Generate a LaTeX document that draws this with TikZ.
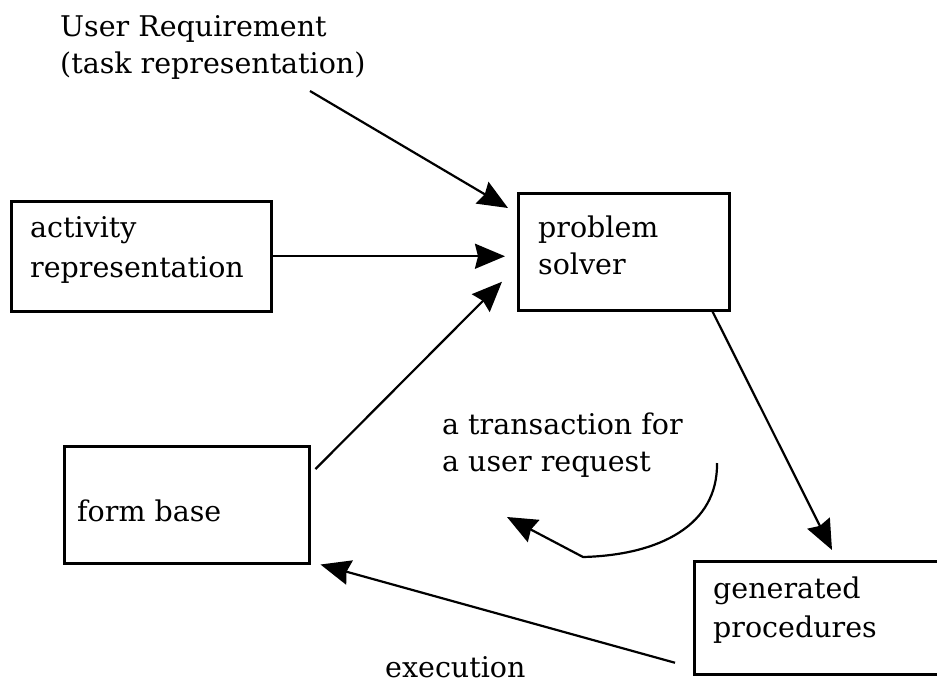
\documentclass[tikz,border=0pt]{standalone}
\usepackage{fontspec}
\setmainfont{DejaVu Serif}
\usetikzlibrary{arrows.meta,calc}

\begin{document}
\begin{tikzpicture}[x=1pt,y=-1pt,
  box/.style={draw, line width=2.5pt, inner sep=0pt, anchor=north west},
  lbl/.style={anchor=base west, inner sep=0pt, font=\fontsize{28.5}{36}\selectfont},
  conn/.style={line width=2.2pt, -{Stealth[length=30pt,width=25pt,inset=3pt]}}]

  % page frame
  \clip (0,0) rectangle (937,683);
  \fill[white] (0,0) rectangle (937,683);

  % boxes
  \node[box, minimum width=260pt, minimum height=110pt] (act) at (10,200) {};
  \node[box, minimum width=211pt, minimum height=117pt] (ps)  at (517,192) {};
  \node[box, minimum width=245pt, minimum height=117pt] (fb)  at (63,445) {};
  \node[box, minimum width=300pt, minimum height=113pt] (gp)  at (693,560) {};

  % labels
  \node[lbl] (ur1) at (60,36)  {User Requirement};
  \node[lbl] (ur2) at (60,73)  {(task representation)};
  \node[lbl] (a1)  at (30,237) {activity};
  \node[lbl] (a2)  at (30,277) {representation};
  \node[lbl] (p1)  at (538,237) {problem};
  \node[lbl] (p2)  at (538,274) {solver};
  \node[lbl] (t1)  at (442,434) {a transaction for};
  \node[lbl] (t2)  at (442,471) {a user request};
  \node[lbl] (f1)  at (77,521) {form base};
  \node[lbl] (g1)  at (713,598) {generated};
  \node[lbl] (g2)  at (713,637) {procedures};
  \node[lbl] (ex)  at (385,677) {execution};

  % free ends
  \coordinate (urs) at (310,91);
  \coordinate (trs) at (717,463);
  \coordinate (trm) at (583,557);
  \coordinate (tre) at (507,517);

  % connectors
  \draw[conn] (urs) -- ($(ps.north west)+(-9,16)$);
  \draw[conn] (act.east) -- ($(act.east -| ps.west)+(-12,0)$);
  \draw[conn] ($(fb.north east)+(5,24)$) -- ($(ps.west)+(-15,30)$);
  \draw[conn] ($(ps.south east)+(-18,0)$) -- ($(gp.north west)+(139,-10)$);
  \draw[conn] ($(gp.west)+(-18,45)$) -- ($(fb.south east)+(10,0)$);
  \draw[conn] (trs) .. controls (718,525) and (660,555) .. (trm) -- (tre);
\end{tikzpicture}
\end{document}
